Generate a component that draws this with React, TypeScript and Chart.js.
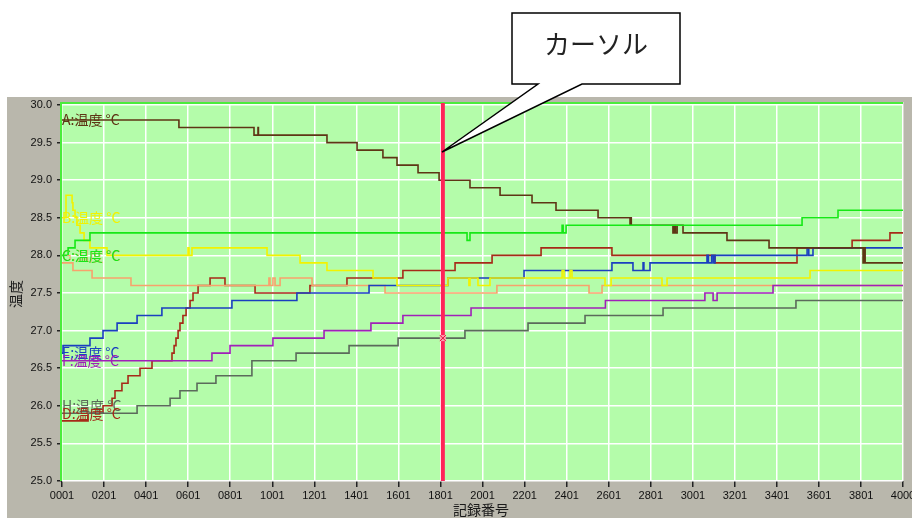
import React, { useEffect, useRef } from "react";
import { Chart, registerables } from "chart.js";

Chart.register(...registerables);

// ---- axis ticks ----
const xTicks = [1, 201, 401, 601, 801, 1001, 1201, 1401, 1601, 1801, 2001, 2201, 2401, 2601, 2801, 3001, 3201, 3401, 3601, 3801, 4000];
const yTicks = [25.0, 25.5, 26.0, 26.5, 27.0, 27.5, 28.0, 28.5, 29.0, 29.5, 30.0];
const xTitle = "記録番号";
const yTitle = "温度";
const calloutText = "カーソル";

// ---- series (record number where a value starts, value) ----
const aIdx = [1, 557, 914, 933, 935, 1261, 1404, 1527, 1594, 1694, 1794, 1941, 2084, 2236, 2350, 2550, 2702, 2705, 2708, 2906, 2912, 2918, 2926, 2954, 3163, 3363, 3810, 3815, 3820, 4000];
const aVal = [29.8, 29.7, 29.6, 29.7, 29.6, 29.5, 29.4, 29.3, 29.2, 29.1, 29.0, 28.9, 28.8, 28.7, 28.6, 28.5, 28.4, 28.5, 28.4, 28.3, 28.4, 28.3, 28.4, 28.3, 28.2, 28.1, 27.9, 28.1, 27.9, 27.9];

const bIdx = [1, 20, 49, 53, 63, 72, 87, 106, 134, 215, 600, 605, 619, 976, 1133, 1261, 1480, 1594, 1836, 1936, 1941, 1979, 2036, 2379, 2388, 2417, 2426, 2583, 2612, 2854, 2878, 3558, 4000];
const bVal = [28.5, 28.8, 28.7, 28.6, 28.5, 28.4, 28.3, 28.2, 28.1, 28.0, 28.1, 28.0, 28.1, 28.0, 27.9, 27.8, 27.7, 27.6, 27.7, 27.6, 27.7, 27.6, 27.7, 27.8, 27.7, 27.8, 27.7, 27.6, 27.7, 27.6, 27.7, 27.8, 27.8];

const cIdx = [1, 30, 63, 134, 1927, 1941, 2379, 2384, 2398, 3520, 3691, 4000];
const cVal = [28.0, 28.1, 28.2, 28.3, 28.2, 28.3, 28.4, 28.3, 28.4, 28.5, 28.6, 28.6];

const dIdx = [1, 53, 144, 329, 985, 990, 1004, 1014, 1038, 1190, 1537, 2069, 2507, 2569, 4000];
const dVal = [27.9, 27.8, 27.7, 27.6, 27.7, 27.6, 27.7, 27.6, 27.7, 27.6, 27.5, 27.6, 27.5, 27.6, 27.6];

const eIdx = [1, 6, 134, 196, 263, 358, 476, 809, 1118, 1461, 1836, 2198, 2616, 2716, 2764, 2768, 2797, 3068, 3075, 3090, 3098, 3106, 3544, 3552, 3572, 4000];
const eVal = [26.7, 26.8, 26.9, 27.0, 27.1, 27.2, 27.3, 27.4, 27.5, 27.6, 27.7, 27.8, 27.9, 27.8, 27.9, 27.8, 27.9, 28.0, 27.9, 28.0, 27.9, 28.0, 28.1, 28.0, 28.1, 28.1];

const fIdx = [1, 714, 800, 1004, 1247, 1470, 1622, 1946, 2585, 3058, 3097, 3116, 3382, 4000];
const fVal = [26.6, 26.7, 26.8, 26.9, 27.0, 27.1, 27.2, 27.3, 27.4, 27.5, 27.4, 27.5, 27.6, 27.6];

const gIdx = [1, 125, 196, 239, 253, 286, 315, 372, 429, 524, 534, 543, 553, 562, 576, 591, 610, 624, 648, 705, 776, 919, 1180, 1356, 1622, 1870, 2046, 2279, 2616, 3106, 3496, 3758, 3938, 4000];
const gVal = [25.8, 25.9, 26.0, 26.1, 26.2, 26.3, 26.4, 26.5, 26.6, 26.7, 26.8, 26.9, 27.0, 27.1, 27.2, 27.3, 27.4, 27.5, 27.6, 27.7, 27.6, 27.5, 27.6, 27.7, 27.8, 27.9, 28.0, 28.1, 28.0, 27.9, 28.1, 28.2, 28.3, 28.3];

const hIdx = [1, 358, 515, 562, 643, 733, 904, 1114, 1366, 1599, 1917, 2217, 2488, 2859, 3491, 4000];
const hVal = [25.9, 26.0, 26.1, 26.2, 26.3, 26.4, 26.6, 26.7, 26.8, 26.9, 27.0, 27.1, 27.2, 27.3, 27.4, 27.4];

// ---- series labels drawn at the left edge ----
const labelTexts = ["G:温度 °C", "A:温度 °C", "B:温度 °C", "C:温度 °C", "E:温度 °C", "F:温度 °C", "H:温度 °C", "D:温度 °C"];
const labelValues = [28.0, 29.8, 28.5, 28.0, 26.7, 26.6, 26.0, 25.9];
const labelSeries = [3, 0, 1, 2, 4, 5, 7, 6];

// ---- cursor ----
const cursorIndex = 1812;
const cursorValue = 26.9;

const COLORS = ["#5e3515", "#f2f200", "#16e816", "#f7a26c", "#1a3fc0", "#a020b8", "#a62a18", "#5b6a5b"];
const ORDERS = [1, 2, 0, 5, 4, 3, 7, 6];

const GRAY = "#b9b7ac";
const PLOT_BG = "#b4fcaa";
const TICK_FONT = { family: "'Liberation Sans Narrow', 'Liberation Sans', Arial, sans-serif", size: 11 };
const CJK = "'Noto Sans CJK JP', 'Noto Sans', sans-serif";

const decor = {
  id: "decor",
  beforeDraw(chart: any) {
    const { ctx, chartArea } = chart;
    ctx.save();
    ctx.fillStyle = "#ffffff";
    ctx.fillRect(0, 0, chart.width, chart.height);
    ctx.fillStyle = GRAY;
    ctx.fillRect(7, 97, chart.width - 7, chart.height - 97);
    ctx.fillStyle = PLOT_BG;
    ctx.fillRect(chartArea.left - 1, chartArea.top - 2, chartArea.right - chartArea.left + 1, chartArea.bottom - chartArea.top + 2);
    ctx.restore();
  },
  beforeDatasetsDraw(chart: any) {
    const { ctx, chartArea } = chart;
    ctx.save();
    ctx.strokeStyle = "#4bec3c";
    ctx.lineWidth = 2;
    ctx.beginPath();
    ctx.moveTo(chartArea.left - 1, chartArea.bottom);
    ctx.lineTo(chartArea.left - 1, chartArea.top - 2);
    ctx.lineTo(chartArea.right, chartArea.top - 2);
    ctx.stroke();
    ctx.strokeStyle = "#d8d8d0";
    ctx.lineWidth = 1;
    ctx.beginPath();
    ctx.moveTo(chartArea.right + 0.5, chartArea.top - 3);
    ctx.lineTo(chartArea.right + 0.5, chartArea.bottom);
    ctx.stroke();
    ctx.restore();
  },
  afterDatasetsDraw(chart: any) {
    const { ctx, chartArea, scales } = chart;
    const xs = scales.x;
    const ys = scales.y;
    ctx.save();
    // cursor
    const cx = xs.getPixelForValue(cursorIndex);
    ctx.strokeStyle = "#ff2358";
    ctx.lineWidth = 4;
    ctx.beginPath();
    ctx.moveTo(cx, chartArea.top - 2);
    ctx.lineTo(cx, chartArea.bottom);
    ctx.stroke();
    const cy = ys.getPixelForValue(cursorValue);
    ctx.fillStyle = "#ff9fb0";
    ctx.fillRect(cx - 3, cy - 3, 6, 6);
    ctx.strokeStyle = "#e0103a";
    ctx.lineWidth = 1;
    ctx.beginPath();
    ctx.moveTo(cx - 3, cy - 3); ctx.lineTo(cx + 3, cy + 3);
    ctx.moveTo(cx + 3, cy - 3); ctx.lineTo(cx - 3, cy + 3);
    ctx.stroke();
    // labels
    ctx.font = `14px ${CJK}`;
    ctx.textBaseline = "middle";
    ctx.textAlign = "left";
    labelTexts.forEach((t, i) => {
      ctx.fillStyle = COLORS[labelSeries[i]];
      ctx.fillText(t, chartArea.left, ys.getPixelForValue(labelValues[i]));
    });
    ctx.restore();
  },
  afterDraw(chart: any) {
    const { ctx } = chart;
    ctx.save();
    // titles
    ctx.fillStyle = "#1a1a1a";
    ctx.font = `14px ${CJK}`;
    ctx.textAlign = "center";
    ctx.textBaseline = "middle";
    ctx.fillText(xTitle, 481, 510);
    ctx.translate(16, 294);
    ctx.rotate(-Math.PI / 2);
    ctx.fillText(yTitle, 0, 0);
    ctx.restore();
    // callout
    ctx.save();
    ctx.beginPath();
    ctx.moveTo(512, 13);
    ctx.lineTo(680, 13);
    ctx.lineTo(680, 84);
    ctx.lineTo(582, 84);
    ctx.lineTo(442, 152);
    ctx.lineTo(538, 84);
    ctx.lineTo(512, 84);
    ctx.closePath();
    ctx.fillStyle = "#ffffff";
    ctx.fill();
    ctx.strokeStyle = "#000000";
    ctx.lineWidth = 1.5;
    ctx.lineJoin = "miter";
    ctx.stroke();
    ctx.fillStyle = "#222222";
    ctx.font = `26px ${CJK}`;
    ctx.textAlign = "center";
    ctx.textBaseline = "middle";
    ctx.fillText(calloutText, 596, 44);
    ctx.restore();
  },
};

export default function App() {
  const ref = useRef<HTMLCanvasElement>(null);
  useEffect(() => {
    const canvas = ref.current!;
    const all = [
      [aIdx, aVal], [bIdx, bVal], [cIdx, cVal], [dIdx, dVal],
      [eIdx, eVal], [fIdx, fVal], [gIdx, gVal], [hIdx, hVal],
    ];
    const datasets = all.map(([idx, val], i) => ({
      label: "S" + i,
      data: idx.map((x, k) => ({ x, y: val[k] })),
      borderColor: COLORS[i],
      backgroundColor: COLORS[i],
      borderWidth: 1.6,
      stepped: true as const,
      pointRadius: 0,
      fill: false,
      order: ORDERS[i],
    }));
    const chart = new Chart(canvas, {
      type: "line",
      data: { datasets },
      options: {
        responsive: false,
        animation: false,
        devicePixelRatio: 1,
        layout: { padding: { top: 105, right: 9, left: 0, bottom: 0 } },
        plugins: { legend: { display: false }, tooltip: { enabled: false } },
        scales: {
          x: {
            type: "linear",
            min: 1,
            max: 4000,
            afterBuildTicks: (s: any) => { s.ticks = xTicks.map((v) => ({ value: v })); },
            afterFit: (s: any) => { s.height = 37; s.paddingLeft = 0; s.paddingRight = 0; },
            ticks: {
              autoSkip: false, maxRotation: 0, minRotation: 0, padding: 2, color: "#111",
              font: TICK_FONT,
              callback: (v: any) => String(v).padStart(4, "0"),
            },
            grid: { color: "#ffffff", lineWidth: 1.5, tickColor: "#222", tickLength: 6 },
            border: { display: false },
          },
          y: {
            type: "linear",
            min: 25,
            max: 30,
            afterBuildTicks: (s: any) => { s.ticks = yTicks.map((v) => ({ value: v })); },
            afterFit: (s: any) => { s.width = 62; s.paddingTop = 0; s.paddingBottom = 0; },
            ticks: {
              padding: 5, color: "#111", font: TICK_FONT,
              callback: (v: any) => Number(v).toFixed(1),
            },
            grid: { color: "#ffffff", lineWidth: 1.5, tickColor: "#222", tickLength: 5 },
            border: { display: false },
          },
        },
      },
      plugins: [decor],
    });
    return () => chart.destroy();
  }, []);
  return (
    <div style={{ position: "absolute", left: 0, top: 0, width: 912, height: 518 }}>
      <canvas ref={ref} width={912} height={518} style={{ display: "block", width: 912, height: 518 }} />
    </div>
  );
}
